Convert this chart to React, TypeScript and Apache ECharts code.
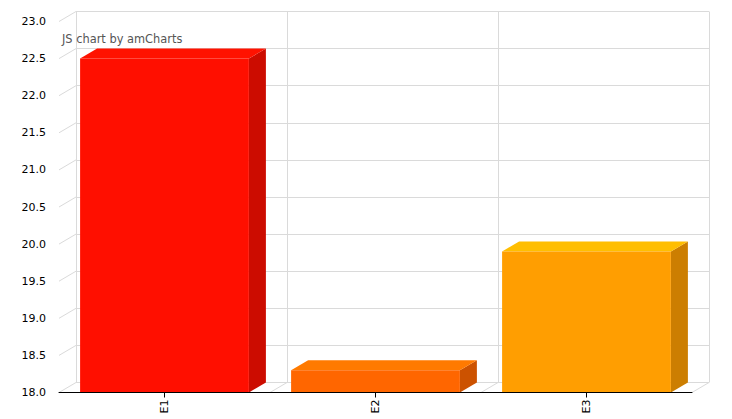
import React, { useEffect, useRef } from "react";
import * as echarts from "echarts";

const categories = ["E1", "E2", "E3"];
const values = [22.5, 18.3, 19.9];
const frontColors = ["#FF0F00", "#FF6600", "#FF9E01"];
const topColors = ["#FF1200", "#FF7A00", "#FFBE01"];
const sideColors = ["#CC0C00", "#CC5200", "#CC7E01"];
const Y_MIN = 18;
const Y_MAX = 23;
const Y_STEP = 0.5;
const yTicks: number[] = [];
for (let v = Y_MIN; v <= Y_MAX + 1e-9; v += Y_STEP) yTicks.push(Math.round(v * 10) / 10);

const DX = 17;
const DY = -10;
const GRID_COLOR = "#dadada";
const FONT = "DejaVu Sans, Verdana, sans-serif";
const G = { left: 59, right: 40, top: 21.5, bottom: 26.5 };

export default function App() {
  const ref = useRef<HTMLDivElement>(null);
  useEffect(() => {
    if (!ref.current) return;
    const chart = echarts.init(ref.current, undefined, { renderer: "svg" });
    const option: any = {
      animation: false,
      backgroundColor: "#ffffff",
      textStyle: { fontFamily: FONT },
      graphic: [
        {
          type: "text",
          left: 62,
          top: 33,
          style: { text: "JS chart by amCharts", fill: "#555555", font: "11.4px " + FONT },
          z: 10,
        },
      ],
      grid: [
        { left: G.left, right: G.right, top: G.top, bottom: G.bottom },
        { left: G.left + DX, right: G.right - DX, top: G.top + DY, bottom: G.bottom - DY },
      ],
      xAxis: [
        {
          type: "category",
          gridIndex: 0,
          data: categories,
          axisLine: { show: true, lineStyle: { color: "#000000", width: 1 } },
          axisTick: { show: true, alignWithLabel: true, length: 5, lineStyle: { color: "#000000" } },
          axisLabel: { rotate: 90, color: "#000000", fontSize: 11, fontFamily: FONT, margin: 7 },
          splitLine: { show: false },
          z: 5,
        },
        {
          type: "category",
          gridIndex: 1,
          data: categories,
          axisLine: { show: false },
          axisTick: { show: false },
          axisLabel: { show: false },
          splitLine: { show: true, lineStyle: { color: GRID_COLOR, width: 1 } },
        },
      ],
      yAxis: [
        {
          type: "value",
          gridIndex: 0,
          min: Y_MIN,
          max: Y_MAX,
          interval: Y_STEP,
          axisLine: { show: false },
          axisTick: { show: false },
          splitLine: { show: false },
          axisLabel: {
            color: "#000000",
            fontSize: 11,
            fontFamily: FONT,
            margin: 13,
            formatter: (v: number) => v.toFixed(1),
          },
        },
        {
          type: "value",
          gridIndex: 1,
          min: Y_MIN,
          max: Y_MAX,
          interval: Y_STEP,
          axisLine: { show: false },
          axisTick: { show: false },
          axisLabel: { show: false },
          splitLine: { show: true, lineStyle: { color: GRID_COLOR, width: 1 } },
        },
      ],
      series: [
        {
          // left wall diagonals at each tick
          type: "custom",
          xAxisIndex: 0,
          yAxisIndex: 0,
          clip: false,
          silent: true,
          z: 1,
          data: yTicks.map((v) => [0, v]),
          renderItem: (params: any, api: any) => {
            const cs = params.coordSys;
            const y = api.coord([0, api.value(1)])[1];
            return {
              type: "line",
              shape: { x1: cs.x, y1: y, x2: cs.x + DX, y2: y + DY },
              style: { stroke: GRID_COLOR, lineWidth: 1 },
            };
          },
        },
        {
          // floor diagonals at category boundaries
          type: "custom",
          xAxisIndex: 0,
          yAxisIndex: 0,
          clip: false,
          silent: true,
          z: 1,
          data: categories.map((c, i) => [i, Y_MIN]),
          renderItem: (params: any, api: any) => {
            const p = api.coord([api.value(0), Y_MIN]);
            const bw = api.size([1, 0])[0];
            const x = p[0] + bw / 2;
            return {
              type: "line",
              shape: { x1: x, y1: p[1], x2: x + DX, y2: p[1] + DY },
              style: { stroke: GRID_COLOR, lineWidth: 1 },
            };
          },
        },
        {
          type: "custom",
          name: "values",
          xAxisIndex: 0,
          yAxisIndex: 0,
          clip: false,
          z: 3,
          data: values.map((v, i) => [i, v]),
          renderItem: (params: any, api: any) => {
            const i = api.value(0);
            const top = api.coord([i, api.value(1)]);
            const bot = api.coord([i, Y_MIN]);
            const bw = api.size([1, 0])[0] * 0.8;
            const x0 = top[0] - bw / 2;
            const x1 = top[0] + bw / 2;
            const yT = top[1];
            const yB = bot[1];
            const idx = params.dataIndex;
            return {
              type: "group",
              children: [
                {
                  type: "polygon",
                  shape: { points: [[x1, yT], [x1 + DX, yT + DY], [x1 + DX, yB + DY], [x1, yB]] },
                  style: { fill: sideColors[idx] },
                },
                {
                  type: "polygon",
                  shape: { points: [[x0, yT], [x0 + DX, yT + DY], [x1 + DX, yT + DY], [x1, yT]] },
                  style: { fill: topColors[idx] },
                },
                {
                  type: "rect",
                  shape: { x: x0, y: yT, width: bw, height: yB - yT },
                  style: { fill: frontColors[idx] },
                },
              ],
            };
          },
        },
      ],
    };
    chart.setOption(option);
    return () => chart.dispose();
  }, []);
  return (
    <div
      ref={ref}
      style={{ position: "fixed", left: 0, top: 0, width: 732, height: 419, background: "#fff" }}
    />
  );
}
